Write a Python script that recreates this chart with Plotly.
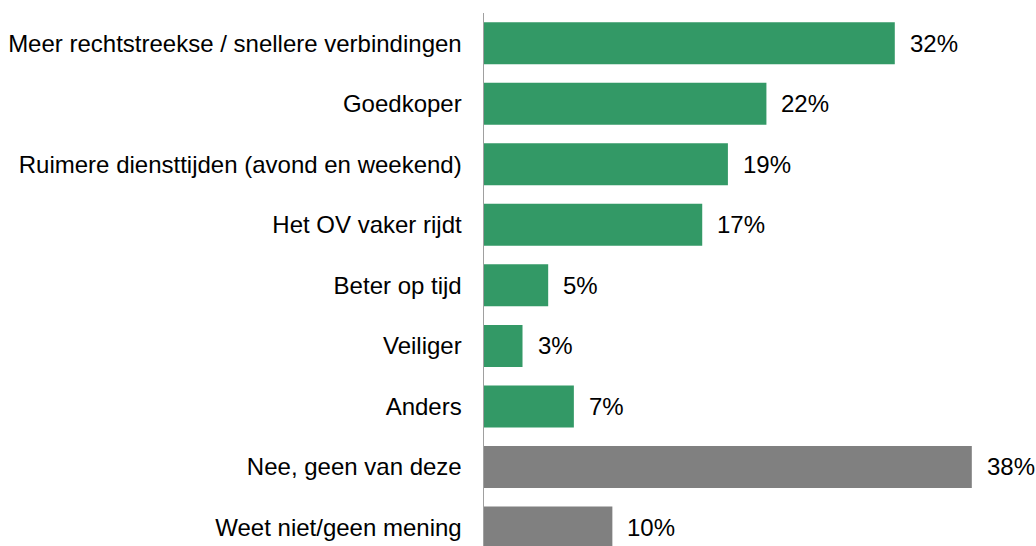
import plotly.graph_objects as go

categories = [
    "Meer rechtstreekse / snellere verbindingen",
    "Goedkoper",
    "Ruimere diensttijden (avond en weekend)",
    "Het OV vaker rijdt",
    "Beter op tijd",
    "Veiliger",
    "Anders",
    "Nee, geen van deze",
    "Weet niet/geen mening",
]
values = [32, 22, 19, 17, 5, 3, 7, 38, 10]
colors = ["#339966"] * 7 + ["#808080"] * 2
value_labels = [f"{v}%" for v in values]

FONT = "Liberation Sans, Arial, sans-serif"
FS = 24

fig = go.Figure()
fig.add_trace(go.Bar(
    x=values, y=categories, orientation="h",
    marker=dict(color=colors, line=dict(width=0)),
    hoverinfo="skip",
))

for c, v, t in zip(categories, values, value_labels):
    fig.add_annotation(x=v, y=c, text=t, showarrow=False, xanchor="left",
                       xshift=13, font=dict(family=FONT, size=FS, color="#000000"))

fig.update_layout(
    width=1036, height=546,
    margin=dict(l=484, r=0, t=13, b=0),
    paper_bgcolor="white", plot_bgcolor="white",
    bargap=0.306,
    showlegend=False,
    font=dict(family=FONT, size=FS, color="#000000"),
)
fig.update_xaxes(range=[0, 43], visible=False, showgrid=False, zeroline=False)
fig.update_yaxes(
    categoryorder="array", categoryarray=categories,
    range=[8.306, -0.5], autorange=False,
    showline=True, linecolor="#a0a0a0", linewidth=1.5,
    showgrid=False, zeroline=False, ticks="",
    ticklabelstandoff=16,
    tickfont=dict(family=FONT, size=FS, color="#000000"),
)

fig.write_html(
    "out.html",
    config={"displayModeBar": False, "staticPlot": True},
    post_script="document.body.style.margin='0';document.body.style.overflow='hidden';",
)
